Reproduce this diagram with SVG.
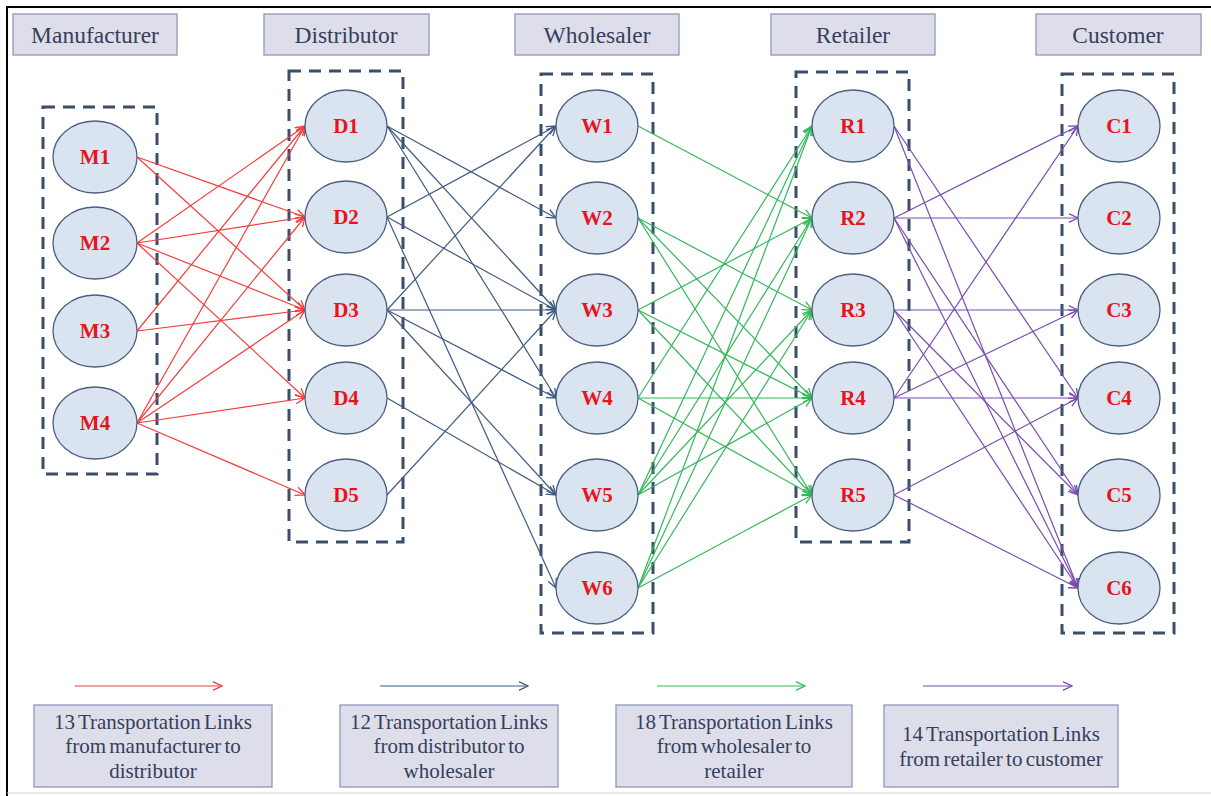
<svg xmlns="http://www.w3.org/2000/svg" width="1211" height="796" viewBox="0 0 1211 796">
<style>
.bg{fill:#ffffff}
.frame{stroke:#000;stroke-width:2;fill:none}
.hdr{fill:#dedeeb;stroke:#8d98bd;stroke-width:1.3}
.hdrt{font-family:"Liberation Serif",serif;font-size:23.5px;fill:#35405a;text-anchor:middle}
.grp{fill:none;stroke:#3a4e69;stroke-width:3;stroke-dasharray:12 8}
.node{fill:#dae3f0;stroke:#4a5f80;stroke-width:1.3}
.nt{font-family:"Liberation Serif",serif;font-size:21px;font-weight:bold;fill:#e8141c;text-anchor:middle}
.er{stroke:#f43c3c;stroke-width:1.2;fill:none;marker-end:url(#ar)}
.eb{stroke:#3f5a82;stroke-width:1.2;fill:none;marker-end:url(#ab)}
.eg{stroke:#33b85a;stroke-width:1.2;fill:none;marker-end:url(#ag)}
.ep{stroke:#7a4cb0;stroke-width:1.2;fill:none;marker-end:url(#ap)}
.lgb{fill:#dedeeb;stroke:#8d98bd;stroke-width:1.3}
.lgt{font-family:"Liberation Serif",serif;font-size:21px;fill:#35405a;text-anchor:middle;word-spacing:-2px}
</style>
<defs>
<marker id="ar" viewBox="0 0 10 10" refX="9.5" refY="5" markerWidth="10" markerHeight="10" markerUnits="userSpaceOnUse" orient="auto"><path d="M0,0.5 L9.5,5 L0,9.5" fill="none" stroke="#f43c3c" stroke-width="1.3"/></marker>
<marker id="ab" viewBox="0 0 10 10" refX="9.5" refY="5" markerWidth="10" markerHeight="10" markerUnits="userSpaceOnUse" orient="auto"><path d="M0,0.5 L9.5,5 L0,9.5" fill="none" stroke="#3f5a82" stroke-width="1.3"/></marker>
<marker id="ag" viewBox="0 0 10 10" refX="9.5" refY="5" markerWidth="10" markerHeight="10" markerUnits="userSpaceOnUse" orient="auto"><path d="M0,0.5 L9.5,5 L0,9.5" fill="none" stroke="#33b85a" stroke-width="1.3"/></marker>
<marker id="ap" viewBox="0 0 10 10" refX="9.5" refY="5" markerWidth="10" markerHeight="10" markerUnits="userSpaceOnUse" orient="auto"><path d="M0,0.5 L9.5,5 L0,9.5" fill="none" stroke="#7a4cb0" stroke-width="1.3"/></marker>
</defs>
<rect class="bg" x="0" y="0" width="1211" height="796"/>
<path class="frame" d="M7,796 V7 H1211"/>
<line x1="7" y1="793" x2="1211" y2="793" stroke="#d0d0d0" stroke-width="1"/>

<g id="headers">
<g id="h-manufacturer"><rect class="hdr" x="13" y="14" width="164" height="41"/><text class="hdrt" x="95" y="43">Manufacturer</text></g>
<g id="h-distributor"><rect class="hdr" x="264" y="14" width="165" height="41"/><text class="hdrt" x="346" y="43">Distributor</text></g>
<g id="h-wholesaler"><rect class="hdr" x="515" y="14" width="164" height="41"/><text class="hdrt" x="597" y="43">Wholesaler</text></g>
<g id="h-retailer"><rect class="hdr" x="771" y="14" width="164" height="41"/><text class="hdrt" x="853" y="43">Retailer</text></g>
<g id="h-customer"><rect class="hdr" x="1036" y="14" width="165" height="41"/><text class="hdrt" x="1118" y="43">Customer</text></g>
</g>

<g id="groups">
<rect class="grp" x="43" y="107" width="114" height="367"/>
<rect class="grp" x="289" y="71" width="114" height="471"/>
<rect class="grp" x="541" y="74" width="112" height="559"/>
<rect class="grp" x="796" y="72" width="113" height="470"/>
<rect class="grp" x="1062" y="74" width="112" height="559"/>
</g>

<g id="connectors">
<!-- M -> D (13) -->
<line class="er" x1="137" y1="157" x2="305" y2="217"/>
<line class="er" x1="137" y1="157" x2="305" y2="310"/>
<line class="er" x1="137" y1="243" x2="305" y2="126"/>
<line class="er" x1="137" y1="243" x2="305" y2="217"/>
<line class="er" x1="137" y1="243" x2="305" y2="310"/>
<line class="er" x1="137" y1="243" x2="305" y2="398"/>
<line class="er" x1="137" y1="331" x2="305" y2="126"/>
<line class="er" x1="137" y1="331" x2="305" y2="310"/>
<line class="er" x1="137" y1="423" x2="305" y2="126"/>
<line class="er" x1="137" y1="423" x2="305" y2="217"/>
<line class="er" x1="137" y1="423" x2="305" y2="310"/>
<line class="er" x1="137" y1="423" x2="305" y2="398"/>
<line class="er" x1="137" y1="423" x2="305" y2="495"/>
<!-- D -> W (12) -->
<line class="eb" x1="387" y1="126" x2="556" y2="218"/>
<line class="eb" x1="387" y1="126" x2="556" y2="310"/>
<line class="eb" x1="387" y1="126" x2="556" y2="398"/>
<line class="eb" x1="387" y1="217" x2="556" y2="126"/>
<line class="eb" x1="387" y1="217" x2="556" y2="310"/>
<line class="eb" x1="387" y1="217" x2="556" y2="588"/>
<line class="eb" x1="387" y1="310" x2="556" y2="126"/>
<line class="eb" x1="387" y1="310" x2="556" y2="310"/>
<line class="eb" x1="387" y1="310" x2="556" y2="398"/>
<line class="eb" x1="387" y1="310" x2="556" y2="495"/>
<line class="eb" x1="387" y1="398" x2="556" y2="495"/>
<line class="eb" x1="387" y1="495" x2="556" y2="310"/>
<!-- W -> R (18) -->
<line class="eg" x1="638" y1="126" x2="812" y2="218"/>
<line class="eg" x1="638" y1="218" x2="812" y2="310"/>
<line class="eg" x1="638" y1="218" x2="812" y2="398"/>
<line class="eg" x1="638" y1="218" x2="812" y2="495"/>
<line class="eg" x1="638" y1="310" x2="812" y2="218"/>
<line class="eg" x1="638" y1="310" x2="812" y2="398"/>
<line class="eg" x1="638" y1="310" x2="812" y2="495"/>
<line class="eg" x1="638" y1="398" x2="812" y2="126"/>
<line class="eg" x1="638" y1="398" x2="812" y2="398"/>
<line class="eg" x1="638" y1="398" x2="812" y2="495"/>
<line class="eg" x1="638" y1="495" x2="812" y2="126"/>
<line class="eg" x1="638" y1="495" x2="812" y2="218"/>
<line class="eg" x1="638" y1="495" x2="812" y2="310"/>
<line class="eg" x1="638" y1="495" x2="812" y2="398"/>
<line class="eg" x1="638" y1="588" x2="812" y2="126"/>
<line class="eg" x1="638" y1="588" x2="812" y2="218"/>
<line class="eg" x1="638" y1="588" x2="812" y2="310"/>
<line class="eg" x1="638" y1="588" x2="812" y2="495"/>
<!-- R -> C (14) -->
<line class="ep" x1="894" y1="126" x2="1078" y2="398"/>
<line class="ep" x1="894" y1="126" x2="1078" y2="588"/>
<line class="ep" x1="894" y1="218" x2="1078" y2="126"/>
<line class="ep" x1="894" y1="218" x2="1078" y2="218"/>
<line class="ep" x1="894" y1="218" x2="1078" y2="495"/>
<line class="ep" x1="894" y1="218" x2="1078" y2="588"/>
<line class="ep" x1="894" y1="310" x2="1078" y2="310"/>
<line class="ep" x1="894" y1="310" x2="1078" y2="495"/>
<line class="ep" x1="894" y1="310" x2="1078" y2="588"/>
<line class="ep" x1="894" y1="398" x2="1078" y2="126"/>
<line class="ep" x1="894" y1="398" x2="1078" y2="310"/>
<line class="ep" x1="894" y1="398" x2="1078" y2="398"/>
<line class="ep" x1="894" y1="495" x2="1078" y2="398"/>
<line class="ep" x1="894" y1="495" x2="1078" y2="588"/>
</g>

<g id="nodes">
<g id="M1"><ellipse class="node" cx="95" cy="157" rx="42" ry="36"/><text class="nt" x="95" y="164">M1</text></g>
<g id="M2"><ellipse class="node" cx="95" cy="243" rx="42" ry="36"/><text class="nt" x="95" y="250">M2</text></g>
<g id="M3"><ellipse class="node" cx="95" cy="331" rx="42" ry="36"/><text class="nt" x="95" y="338">M3</text></g>
<g id="M4"><ellipse class="node" cx="95" cy="423" rx="42" ry="36"/><text class="nt" x="95" y="430">M4</text></g>
<g id="D1"><ellipse class="node" cx="346" cy="126" rx="41" ry="36"/><text class="nt" x="346" y="133">D1</text></g>
<g id="D2"><ellipse class="node" cx="346" cy="217" rx="41" ry="36"/><text class="nt" x="346" y="224">D2</text></g>
<g id="D3"><ellipse class="node" cx="346" cy="310" rx="41" ry="36"/><text class="nt" x="346" y="317">D3</text></g>
<g id="D4"><ellipse class="node" cx="346" cy="398" rx="41" ry="36"/><text class="nt" x="346" y="405">D4</text></g>
<g id="D5"><ellipse class="node" cx="346" cy="495" rx="41" ry="36"/><text class="nt" x="346" y="502">D5</text></g>
<g id="W1"><ellipse class="node" cx="597" cy="126" rx="41" ry="36"/><text class="nt" x="597" y="133">W1</text></g>
<g id="W2"><ellipse class="node" cx="597" cy="218" rx="41" ry="36"/><text class="nt" x="597" y="225">W2</text></g>
<g id="W3"><ellipse class="node" cx="597" cy="310" rx="41" ry="36"/><text class="nt" x="597" y="317">W3</text></g>
<g id="W4"><ellipse class="node" cx="597" cy="398" rx="41" ry="36"/><text class="nt" x="597" y="405">W4</text></g>
<g id="W5"><ellipse class="node" cx="597" cy="495" rx="41" ry="36"/><text class="nt" x="597" y="502">W5</text></g>
<g id="W6"><ellipse class="node" cx="597" cy="588" rx="41" ry="36"/><text class="nt" x="597" y="595">W6</text></g>
<g id="R1"><ellipse class="node" cx="853" cy="126" rx="41" ry="36"/><text class="nt" x="853" y="133">R1</text></g>
<g id="R2"><ellipse class="node" cx="853" cy="218" rx="41" ry="36"/><text class="nt" x="853" y="225">R2</text></g>
<g id="R3"><ellipse class="node" cx="853" cy="310" rx="41" ry="36"/><text class="nt" x="853" y="317">R3</text></g>
<g id="R4"><ellipse class="node" cx="853" cy="398" rx="41" ry="36"/><text class="nt" x="853" y="405">R4</text></g>
<g id="R5"><ellipse class="node" cx="853" cy="495" rx="41" ry="36"/><text class="nt" x="853" y="502">R5</text></g>
<g id="C1"><ellipse class="node" cx="1119" cy="126" rx="41" ry="36"/><text class="nt" x="1119" y="133">C1</text></g>
<g id="C2"><ellipse class="node" cx="1119" cy="218" rx="41" ry="36"/><text class="nt" x="1119" y="225">C2</text></g>
<g id="C3"><ellipse class="node" cx="1119" cy="310" rx="41" ry="36"/><text class="nt" x="1119" y="317">C3</text></g>
<g id="C4"><ellipse class="node" cx="1119" cy="398" rx="41" ry="36"/><text class="nt" x="1119" y="405">C4</text></g>
<g id="C5"><ellipse class="node" cx="1119" cy="495" rx="41" ry="36"/><text class="nt" x="1119" y="502">C5</text></g>
<g id="C6"><ellipse class="node" cx="1119" cy="588" rx="41" ry="36"/><text class="nt" x="1119" y="595">C6</text></g>
</g>

<g id="legend">
<line class="er" x1="75" y1="686" x2="222" y2="686"/>
<line class="eb" x1="380" y1="686" x2="528" y2="686"/>
<line class="eg" x1="657" y1="686" x2="805" y2="686"/>
<line class="ep" x1="923" y1="686" x2="1072" y2="686"/>
<g id="L1"><rect class="lgb" x="34" y="705" width="238" height="82"/><text class="lgt" x="153" y="729">13 Transportation Links</text><text class="lgt" x="153" y="753">from manufacturer to</text><text class="lgt" x="153" y="778">distributor</text></g>
<g id="L2"><rect class="lgb" x="340" y="705" width="218" height="82"/><text class="lgt" x="449" y="729">12 Transportation Links</text><text class="lgt" x="449" y="753">from distributor to</text><text class="lgt" x="449" y="778">wholesaler</text></g>
<g id="L3"><rect class="lgb" x="616" y="705" width="236" height="82"/><text class="lgt" x="734" y="729">18 Transportation Links</text><text class="lgt" x="734" y="753">from wholesaler to</text><text class="lgt" x="734" y="778">retailer</text></g>
<g id="L4"><rect class="lgb" x="884" y="705" width="234" height="82"/><text class="lgt" x="1001" y="741">14 Transportation Links</text><text class="lgt" x="1001" y="766">from retailer  to customer</text></g>
</g>
</svg>
